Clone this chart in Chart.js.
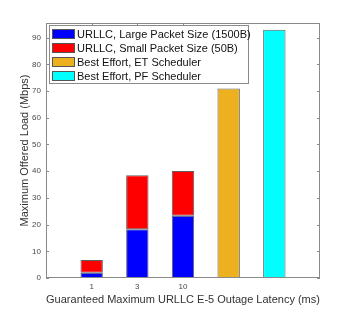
<!DOCTYPE html>
<html>
<head>
<meta charset="utf-8">
<script src="https://cdn.jsdelivr.net/npm/chart.js@4.4.0/dist/chart.umd.min.js"></script>
<style>
  html, body { margin: 0; padding: 0; background: #fff; }
  #wrap { width: 354px; height: 313px; }
</style>
</head>
<body>
<div id="wrap"><canvas id="chart" width="354" height="313"></canvas></div>
<script>
// ---- DATA ----
const latencyLabels = ["1", "3", "10"];
const urllcLarge = [2.0, 18.3, 23.3];
const urllcSmall = [4.7, 20.2, 16.8];
const bestEffortET = 71.0;
const bestEffortPF = 93.0;
const yTicks = [0, 10, 20, 30, 40, 50, 60, 70, 80, 90];

const seriesNames = [
  "URLLC, Large Packet Size (1500B)",
  "URLLC, Small Packet Size (50B)",
  "Best Effort, ET Scheduler",
  "Best Effort, PF Scheduler"
];
const seriesColors = ["#0000ff", "#ff0000", "#edb120", "#00ffff"];

// slots: empty pad, three latencies, ET, PF, empty pad
const labels = ["", ...latencyLabels, "", "", ""];
const pad = v => [null, ...v, null, null, null];
const largeData = pad(urllcLarge);
const smallData = pad(urllcSmall);
const etData = [null, null, null, null, bestEffortET, null, null];
const pfData = [null, null, null, null, null, bestEffortPF, null];

const AXIS = "#8a8a8a";
const TICK_TXT = "#4a4a4a";

// inward ticks under the bars, box + legend on top (matlab look)
const matlabAxes = {
  id: "matlabAxes",
  beforeDatasetsDraw(chart) {
    const { ctx, chartArea: a, scales } = chart;
    ctx.save();
    ctx.strokeStyle = AXIS;
    ctx.lineWidth = 1;
    ctx.beginPath();
    yTicks.forEach(v => {
      const y = Math.round(scales.y.getPixelForValue(v)) + 0.5;
      ctx.moveTo(a.left, y); ctx.lineTo(a.left + 3, y);
      ctx.moveTo(a.right, y); ctx.lineTo(a.right - 3, y);
    });
    latencyLabels.forEach((l, i) => {
      const x = Math.round(scales.x.getPixelForValue(i + 1)) + 0.5;
      ctx.moveTo(x, a.top); ctx.lineTo(x, a.top + 3);
      ctx.moveTo(x, a.bottom); ctx.lineTo(x, a.bottom - 3);
    });
    ctx.stroke();
    ctx.restore();
  },
  afterDatasetsDraw(chart) {
    const { ctx, chartArea: a } = chart;
    ctx.save();
    ctx.strokeStyle = AXIS;
    ctx.lineWidth = 1;
    ctx.strokeRect(a.left + 0.5, a.top + 0.5, a.right - a.left - 1, a.bottom - a.top - 1);

    // legend
    const lx = a.left + 3, ly = a.top + 2, lw = 199, lh = 58;
    ctx.fillStyle = "#fff";
    ctx.fillRect(lx, ly, lw, lh);
    ctx.strokeStyle = AXIS;
    ctx.strokeRect(lx + 0.5, ly + 0.5, lw, lh);
    ctx.font = "11px 'Liberation Sans', Arial, sans-serif";
    ctx.textBaseline = "middle";
    chart.data.datasets.forEach((ds, i) => {
      const cy = ly + 9 + i * 14;
      ctx.fillStyle = ds.backgroundColor;
      ctx.fillRect(lx + 3, cy - 5, 23, 10);
      ctx.strokeStyle = "#555";
      ctx.strokeRect(lx + 3.5, cy - 4.5, 22, 9);
      ctx.fillStyle = "#111";
      ctx.fillText(ds.label, lx + 28, cy + 0.5);
    });
    ctx.restore();
  }
};

const ctx = document.getElementById("chart").getContext("2d");
new Chart(ctx, {
  type: "bar",
  data: {
    labels,
    datasets: [largeData, smallData, etData, pfData].map((d, i) => ({
      label: seriesNames[i],
      data: d,
      backgroundColor: seriesColors[i],
      borderColor: "#606060",
      borderWidth: 1,
      borderSkipped: false,
      categoryPercentage: 1,
      barPercentage: 0.49
    }))
  },
  options: {
    responsive: false,
    animation: false,
    layout: { padding: { left: 18, right: 34, top: 23, bottom: 6 } },
    plugins: { legend: { display: false }, tooltip: { enabled: false } },
    scales: {
      x: {
        stacked: true,
        offset: false,
        grid: { display: false, drawTicks: false },
        border: { display: false },
        ticks: { color: TICK_TXT, font: { size: 8, family: "'Liberation Sans', Arial" }, padding: 4, maxRotation: 0, autoSkip: false },
        title: { display: true, text: "Guaranteed Maximum URLLC E-5 Outage Latency (ms)", color: "#333",
                 font: { size: 11, family: "'Liberation Sans', Arial" }, padding: 0 },
        afterFit(s) { s.height = 29; }
      },
      y: {
        stacked: true,
        min: 0,
        max: 95.5,
        grid: { display: false, drawTicks: false },
        border: { display: false },
        ticks: { stepSize: 10, color: TICK_TXT, font: { size: 8, family: "'Liberation Sans', Arial" }, padding: 5 },
        afterBuildTicks(s) { s.ticks = yTicks.map(v => ({ value: v })); },
        title: { display: true, text: "Maximum Offered Load (Mbps)", color: "#333",
                 font: { size: 11, family: "'Liberation Sans', Arial" }, padding: 0 },
        afterFit(s) { s.width = 28; }
      }
    }
  },
  plugins: [matlabAxes]
});
</script>
</body>
</html>
